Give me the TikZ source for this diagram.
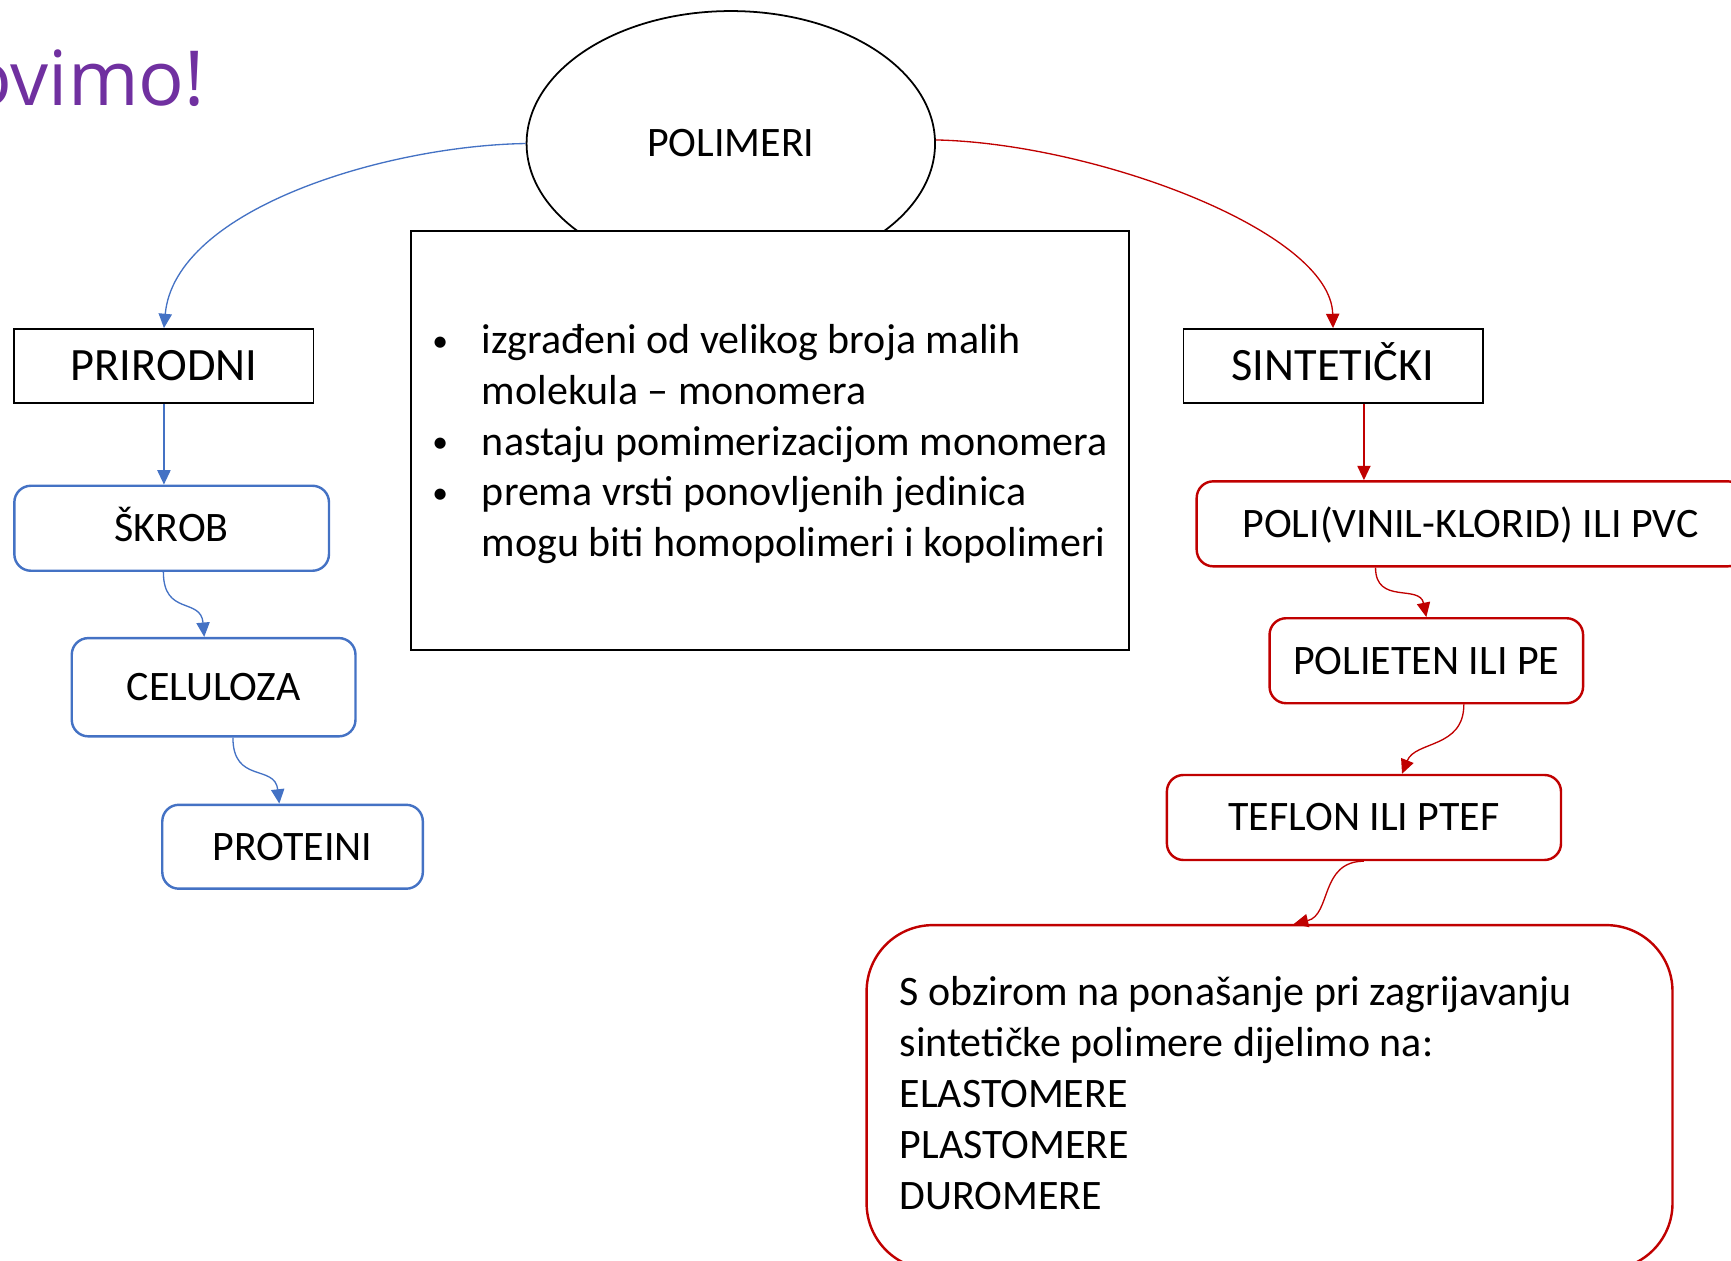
\documentclass[tikz,border=0pt]{standalone}
\usepackage{fontspec}
\setmainfont{Carlito}
\newfontfamily\titlefont{Open Sans}
\usetikzlibrary{shapes.geometric,arrows.meta,calc}
\definecolor{pblue}{HTML}{4472C4}
\definecolor{pred}{HTML}{C00000}
\definecolor{ppurple}{HTML}{7030A0}
\newcommand{\bul}{\makebox[22.5pt][l]{\raisebox{1pt}{\scalebox{0.75}{•}}}}
\begin{document}
\begin{tikzpicture}[x=0.5pt,y=-0.5pt,
  sqbox/.style={draw=black,line width=0.8pt,rectangle,minimum width=135.5pt,minimum height=33.5pt,inner sep=0pt,text height=13.5pt,text depth=0pt,font=\fontsize{21}{25}\selectfont},
  rbox/.style={rectangle,rounded corners=7.5pt,line width=1.1pt,minimum height=38.5pt,inner sep=0pt,text height=12.2pt,text depth=0pt,font=\fontsize{19}{23}\selectfont},
  bluebox/.style={rbox,draw=pblue},
  redbox/.style={rbox,draw=pred},
  tip/.style={-{Triangle[length=6.5pt,width=6pt]}},
  bline/.style={tip,draw=pblue,line width=0.6pt},
  rline/.style={tip,draw=pred,line width=0.6pt}
]
\useasboundingbox (0,0) rectangle (1568,1142);
\clip (0,0) rectangle (1568,1142);

% title (clipped at left, as in the reference)
\node[anchor=base east,inner sep=0pt,text=ppurple,font=\titlefont\fontsize{34.4}{38}\selectfont] (title) at (186,96) {ovimo!};

% central ellipse and info box
\node[ellipse,draw=black,line width=0.8pt,minimum width=185pt,minimum height=120pt,inner sep=0pt,text height=12.2pt,text depth=0pt,font=\fontsize{19}{23}\selectfont] (poli) at (662,130) {POLIMERI};
\node[rectangle,draw=black,fill=white,line width=0.8pt,minimum width=325.5pt,minimum height=190pt,inner sep=0pt,font=\fontsize{19}{23}\selectfont] (info) at (697.5,399) {%
\begin{tabular}{@{}l@{}l@{}}
\rule{0pt}{20.1pt}\bul & izgrađeni od velikog broja malih\\
 & molekula – monomera\\
\bul & nastaju pomimerizacijom monomera\\
\bul & prema vrsti ponovljenih jedinica\\
 & mogu biti homopolimeri i kopolimeri
\end{tabular}};

% left branch
\node[sqbox] (prir) at (148.5,331.5) {PRIRODNI};
\node[bluebox,minimum width=142.5pt] (skrob) at (155.5,478.5) {ŠKROB};
\node[bluebox,minimum width=128.5pt,minimum height=44.5pt] (celul) at (193.5,622.5) {CELULOZA};
\node[bluebox,minimum width=118pt,minimum height=38pt] (prot) at (265,767) {PROTEINI};

% right branch
\node[sqbox] (sint) at (1207.5,331.5) {SINTETIČKI};
\node[redbox,minimum width=248pt] (pvc) at (1332,474.5) {POLI(VINIL-KLORID) ILI PVC};
\node[redbox,minimum width=142pt] (pe) at (1292,598.5) {POLIETEN ILI PE};
\node[redbox,minimum width=178.5pt] (tef) at (1235.5,740.5) {TEFLON ILI PTEF};
\node[rectangle,draw=pred,line width=1.1pt,rounded corners=30pt,minimum width=365pt,minimum height=156pt,inner xsep=15pt,inner ysep=0pt,font=\fontsize{19}{23}\selectfont] (big) at (1150,994) {%
\makebox[335pt][l]{\begin{tabular}{@{}l@{}}
S obzirom na ponašanje pri zagrijavanju\\
sintetičke polimere dijelimo na:\\
ELASTOMERE\\
PLASTOMERE\\
DUROMERE
\end{tabular}}};

% helper coordinates on node borders
\path (sint.south) ++(28,0) coordinate (s1);
\path (skrob.south) ++(-7.5,0) coordinate (k1);
\path (celul.north) ++(-8.5,0) coordinate (c1);
\path (celul.south) ++(17.5,0) coordinate (c2);
\path (prot.north) ++(-12,0) coordinate (p1);
\path (pvc.south) ++(-86,0) coordinate (v1);
\path (pe.south) ++(34,0) coordinate (e1);
\path (tef.north) ++(34.5,0) coordinate (t1);
\path (big.north) ++(22,0) coordinate (g1);

% connectors
\draw[bline] (poli.west) .. controls +(-127,2) and +(10,-108) .. (prir.north);
\draw[rline] (poli.1) .. controls +(143,3) and +(-2,-88) .. (sint.north);
\draw[bline] (prir.south) -- (prir.south |- skrob.north);
\draw[bline] (k1) .. controls +(0,40) and +(-3,-36) .. (c1);
\draw[bline] (c2) .. controls +(0,42) and +(-4,-36) .. (p1);
\draw[rline] (s1) -- (s1 |- pvc.north);
\draw[rline] (v1) .. controls +(0,34) and +(-6,-30) .. (pe.north);
\draw[rline] (e1) .. controls +(0,40) and +(12,-30) .. (t1);
\draw[rline] (tef.south) .. controls +(-40,0) and +(34,-8) .. (g1);
\end{tikzpicture}
\end{document}
